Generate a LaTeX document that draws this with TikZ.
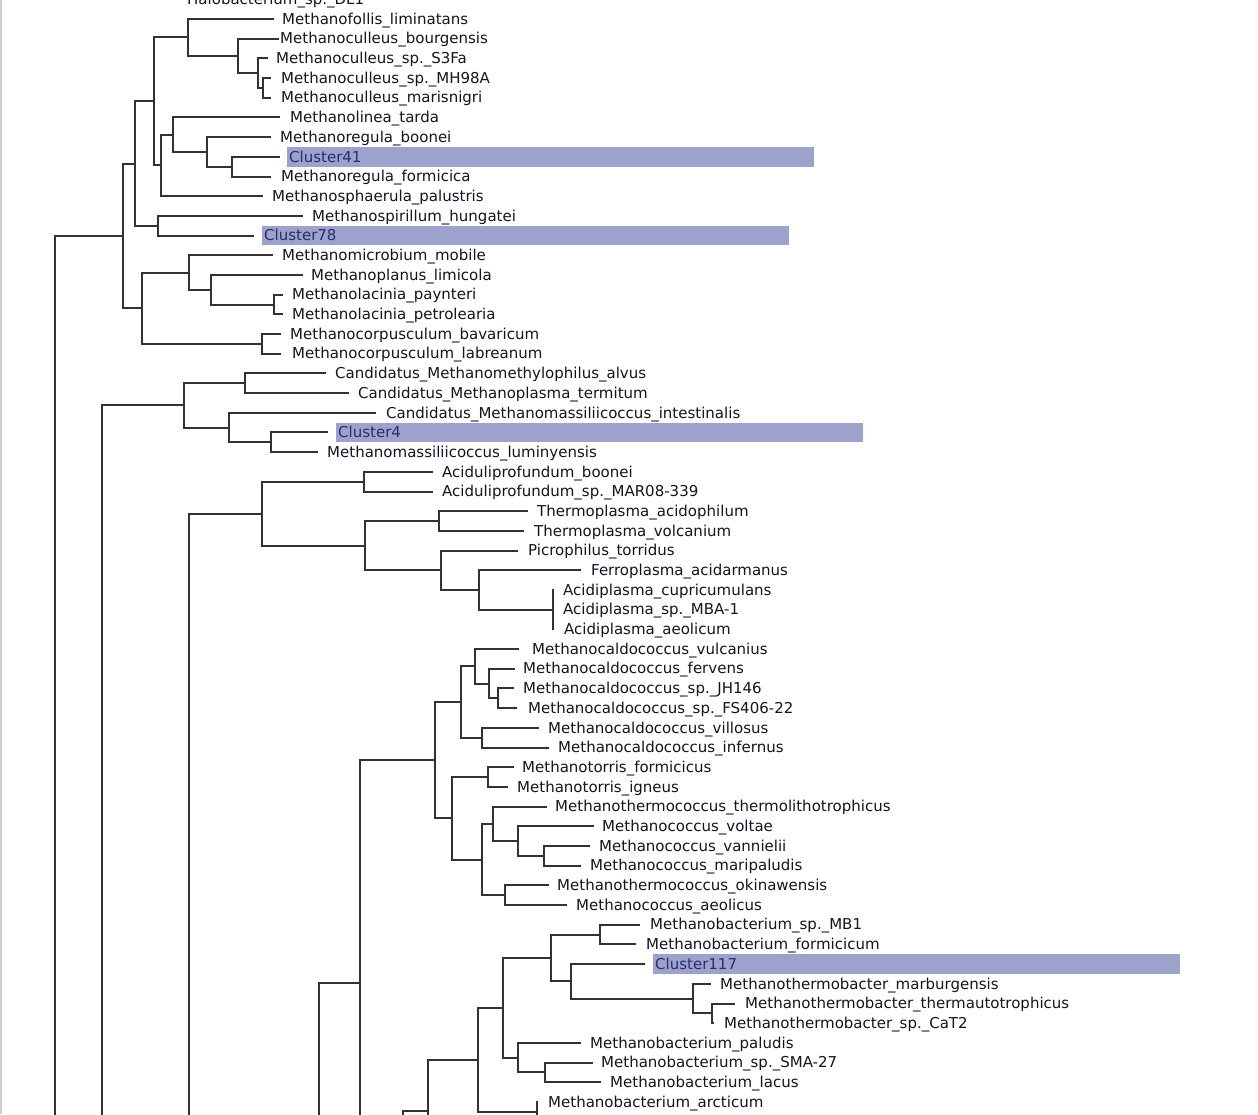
\documentclass[tikz,border=0pt]{standalone}
\usepackage{fontspec}
\setmainfont{DejaVu Sans}
\usetikzlibrary{calc}
\definecolor{LC}{RGB}{50,50,50}
\definecolor{TX}{RGB}{20,20,35}
\definecolor{CTX}{RGB}{40,45,110}
\definecolor{HL}{RGB}{157,162,204}
\definecolor{EDGE}{RGB}{205,205,205}
\tikzset{
  br/.style={draw=LC, line width=2pt, line cap=rect},
  lab/.style={anchor=base west, inner sep=0pt, text=TX, font=\fontsize{15}{15}\selectfont},
  clab/.style={lab, text=CTX},
  hlbox/.style={anchor=west, fill=HL, draw=none, minimum width=527pt, minimum height=19.7pt, inner sep=0pt},
}
\newcommand\leaf[4]{%
  \pgfmathsetmacro\yy{19+19.69*(#1-1)}%
  \coordinate (t#1) at (#2,\yy);
  \node[lab] (l#1) at (#3,\yy+5.2) {#4};
}
\newcommand\cleaf[4]{%
  \pgfmathsetmacro\yy{19+19.69*(#1-1)}%
  \coordinate (t#1) at (#2,\yy);
  \node[hlbox] (b#1) at (#3-2,\yy) {};
  \node[clab] (l#1) at (#3,\yy+5.2) {#4};
}
\newcommand\inode[4]{%
  \path let \p1=(#3), \p2=(#4) in (#2pt,{(\y1+\y2)/2}) coordinate (#1);
  \draw[br] (#1) |- (#3);
  \draw[br] (#1) |- (#4);
}
\begin{document}
\begin{tikzpicture}[x=1pt,y=-1pt]
\useasboundingbox (0,0) rectangle (1258,1114);
\fill[white] (0,0) rectangle (1258,1114);
\clip (0,0) rectangle (1258,1114);
\draw[EDGE, line width=2pt] (1,0) -- (1,1114);
% leaves
\leaf{0}{178}{187}{Halobacterium\_sp.\_DL1}
\leaf{1}{273}{282}{Methanofollis\_liminatans}
\leaf{2}{278}{280}{Methanoculleus\_bourgensis}
\leaf{3}{267}{276}{Methanoculleus\_sp.\_S3Fa}
\leaf{4}{270}{281}{Methanoculleus\_sp.\_MH98A}
\leaf{5}{270}{281}{Methanoculleus\_marisnigri}
\leaf{6}{279}{290}{Methanolinea\_tarda}
\leaf{7}{270}{280}{Methanoregula\_boonei}
\cleaf{8}{279}{289}{Cluster41}
\leaf{9}{270}{281}{Methanoregula\_formicica}
\leaf{10}{262}{272}{Methanosphaerula\_palustris}
\leaf{11}{302}{312}{Methanospirillum\_hungatei}
\cleaf{12}{253}{264}{Cluster78}
\leaf{13}{272}{282}{Methanomicrobium\_mobile}
\leaf{14}{302}{311}{Methanoplanus\_limicola}
\leaf{15}{282}{292}{Methanolacinia\_paynteri}
\leaf{16}{282}{292}{Methanolacinia\_petrolearia}
\leaf{17}{280}{290}{Methanocorpusculum\_bavaricum}
\leaf{18}{280}{292}{Methanocorpusculum\_labreanum}
\leaf{19}{325}{335}{Candidatus\_Methanomethylophilus\_alvus}
\leaf{20}{348}{358}{Candidatus\_Methanoplasma\_termitum}
\leaf{21}{375}{386}{Candidatus\_Methanomassiliicoccus\_intestinalis}
\cleaf{22}{327}{338}{Cluster4}
\leaf{23}{317}{327}{Methanomassiliicoccus\_luminyensis}
\leaf{24}{432}{442}{Aciduliprofundum\_boonei}
\leaf{25}{432}{442}{Aciduliprofundum\_sp.\_MAR08-339}
\leaf{26}{527}{537}{Thermoplasma\_acidophilum}
\leaf{27}{523}{534}{Thermoplasma\_volcanium}
\leaf{28}{517}{528}{Picrophilus\_torridus}
\leaf{29}{580}{591}{Ferroplasma\_acidarmanus}
\leaf{30}{553}{563}{Acidiplasma\_cupricumulans}
\leaf{31}{553}{563}{Acidiplasma\_sp.\_MBA-1}
\leaf{32}{553}{564}{Acidiplasma\_aeolicum}
\leaf{33}{518}{532}{Methanocaldococcus\_vulcanius}
\leaf{34}{514}{523}{Methanocaldococcus\_fervens}
\leaf{35}{513}{523}{Methanocaldococcus\_sp.\_JH146}
\leaf{36}{516}{528}{Methanocaldococcus\_sp.\_FS406-22}
\leaf{37}{537.5}{548}{Methanocaldococcus\_villosus}
\leaf{38}{548}{558}{Methanocaldococcus\_infernus}
\leaf{39}{512.5}{522}{Methanotorris\_formicicus}
\leaf{40}{507}{517}{Methanotorris\_igneus}
\leaf{41}{546}{555}{Methanothermococcus\_thermolithotrophicus}
\leaf{42}{593}{602}{Methanococcus\_voltae}
\leaf{43}{589}{599}{Methanococcus\_vannielii}
\leaf{44}{580}{590}{Methanococcus\_maripaludis}
\leaf{45}{548}{557}{Methanothermococcus\_okinawensis}
\leaf{46}{566}{576}{Methanococcus\_aeolicus}
\leaf{47}{639}{650}{Methanobacterium\_sp.\_MB1}
\leaf{48}{635}{646}{Methanobacterium\_formicicum}
\cleaf{49}{644}{655}{Cluster117}
\leaf{50}{710}{720}{Methanothermobacter\_marburgensis}
\leaf{51}{734}{745}{Methanothermobacter\_thermautotrophicus}
\leaf{52}{713}{724}{Methanothermobacter\_sp.\_CaT2}
\leaf{53}{580}{590}{Methanobacterium\_paludis}
\leaf{54}{592}{601}{Methanobacterium\_sp.\_SMA-27}
\leaf{55}{600}{610}{Methanobacterium\_lacus}
\leaf{56}{537}{548}{Methanobacterium\_arcticum}
% Halobacterium stub
\coordinate (h0) at (150,-0.69);
\draw[br] (h0) -- (t0);
% Methanomicrobia
\inode{nD}{263}{t4}{t5}
\inode{nC}{258}{t3}{nD}
\inode{nB}{238}{t2}{nC}
\inode{nA}{188}{t1}{nB}
\inode{nG}{232}{t8}{t9}
\inode{nF}{207}{t7}{nG}
\inode{nE}{173}{t6}{nF}
\inode{nH}{161}{nE}{t10}
\inode{nI}{154}{nA}{nH}
\inode{nJ}{158}{t11}{t12}
\inode{nK}{135}{nI}{nJ}
\inode{nN}{274}{t15}{t16}
\inode{nM}{211}{t14}{nN}
\inode{nL}{189}{t13}{nM}
\inode{nO}{262}{t17}{t18}
\inode{nP}{142}{nL}{nO}
\inode{nQ}{123}{nK}{nP}
\coordinate (o55) at (55,1130);
\draw[br] (o55) |- (nQ);
% Methanomassiliicoccales
\inode{nS}{245}{t19}{t20}
\inode{nT}{271}{t22}{t23}
\inode{nU}{229}{t21}{nT}
\inode{nV}{184}{nS}{nU}
\coordinate (o102) at (102,1130);
\draw[br] (o102) |- (nV);
% Thermoplasmata
\inode{nW}{364}{t24}{t25}
\inode{nX}{439}{t26}{t27}
\inode{nY}{553}{t30}{t32}
\draw[br] (nY) |- (t31);
\inode{nZ}{479}{t29}{nY}
\inode{nAA}{441}{t28}{nZ}
\inode{nAB}{365}{nX}{nAA}
\inode{nAC}{262}{nW}{nAB}
\coordinate (o189) at (189,1130);
\draw[br] (o189) |- (nAC);
% Methanococci
\inode{nAD}{498}{t35}{t36}
\inode{nAE}{489}{t34}{nAD}
\inode{nAF}{475}{t33}{nAE}
\inode{nAG}{482}{t37}{t38}
\inode{nAH}{461}{nAF}{nAG}
\inode{nAI}{487.5}{t39}{t40}
\inode{nAJ}{544}{t43}{t44}
\inode{nAK}{518}{t42}{nAJ}
\inode{nAL}{493}{t41}{nAK}
\inode{nAM}{504.5}{t45}{t46}
\inode{nAN}{481.5}{nAL}{nAM}
\inode{nAO}{452}{nAI}{nAN}
\inode{nAP}{435}{nAH}{nAO}
\coordinate (nAQ) at (360,983);
\coordinate (oAQ) at (360,1130);
\draw[br] (nAQ) |- (nAP);
\draw[br] (nAQ) -- (oAQ);
\coordinate (oAR) at (319,1130);
\draw[br] (oAR) |- (nAQ);
% Methanobacteria
\inode{nAS}{600}{t47}{t48}
\inode{nAT}{712}{t51}{t52}
\inode{nAU}{692.5}{t50}{nAT}
\inode{nAV}{570.5}{t49}{nAU}
\inode{nAW}{550.5}{nAS}{nAV}
\inode{nAX}{545}{t54}{t55}
\inode{nAY}{517.5}{t53}{nAX}
\inode{nAZ}{503}{nAW}{nAY}
\coordinate (nBB) at (537,1111.8);
\coordinate (oBB) at (537,1130);
\draw[br] (oBB) |- (t56);
\inode{nBA}{478}{nAZ}{nBB}
\coordinate (nBC) at (428,1111);
\coordinate (oBC) at (428,1130);
\draw[br] (oBC) |- (nBA);
\coordinate (oBD) at (403,1130);
\draw[br] (oBD) |- (nBC);
\end{tikzpicture}
\end{document}
